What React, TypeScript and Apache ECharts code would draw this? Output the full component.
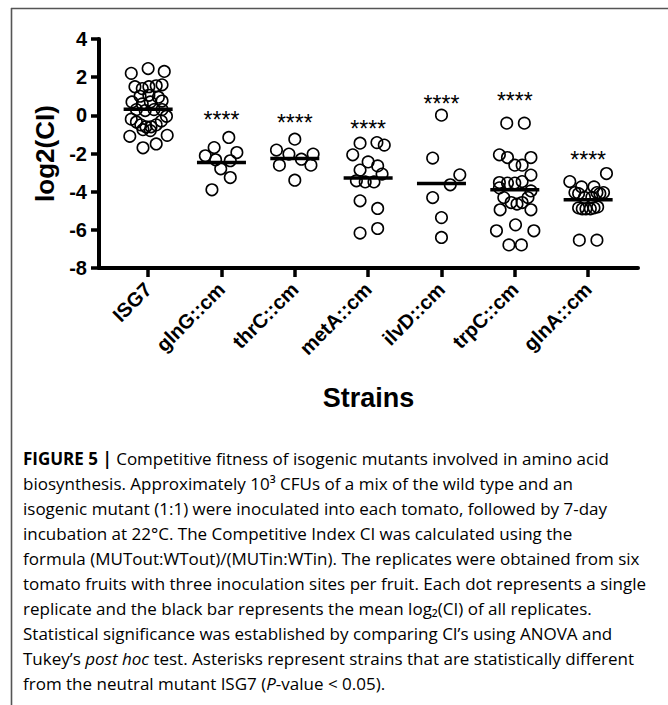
import React, { useEffect, useRef } from "react";
import * as echarts from "echarts";

// ---- data ----
const categories = ["ISG7", "glnG::cm", "thrC::cm", "metA::cm", "ilvD::cm", "trpC::cm", "glnA::cm"];

// horizontal jitter (in category units) and log2(CI) values per strain
const isg7Offsets = [-0.23, 0.0, 0.22, -0.18, -0.08, 0.01, 0.11, 0.19, -0.11, 0.01, 0.14, -0.22, -0.08, 0.03, 0.19, -0.16, -0.04, 0.08, 0.19, -0.23, -0.16, -0.1, -0.03, 0.04, 0.11, 0.18, 0.25, -0.07, 0.03, -0.25, 0.26, -0.07, 0.11];
const isg7Values = [2.2, 2.45, 2.3, 1.5, 1.4, 1.5, 1.55, 1.6, 1.0, 1.05, 0.95, 0.7, 0.6, 0.7, 0.75, 0.3, 0.25, 0.3, 0.3, -0.2, -0.35, -0.5, -0.6, -0.6, -0.5, -0.3, -0.05, -0.75, -0.8, -1.1, -1.05, -1.7, -1.5];

const glnGOffsets = [0.1, -0.1, 0.21, -0.22, -0.08, 0.12, -0.01, 0.12, -0.13];
const glnGValues = [-1.16, -1.69, -1.95, -2.12, -2.33, -2.38, -2.8, -3.26, -3.9];

const thrCOffsets = [0.0, -0.25, -0.08, 0.09, 0.25, -0.21, 0.22, 0.0];
const thrCValues = [-1.25, -1.82, -2.03, -2.3, -2.03, -2.61, -2.61, -3.4];

const metAOffsets = [-0.11, 0.12, 0.22, -0.21, 0.0, 0.13, -0.11, 0.19, -0.16, -0.04, 0.08, -0.11, 0.13, -0.11, 0.13];
const metAValues = [-1.46, -1.43, -1.56, -2.07, -2.44, -2.65, -2.87, -3.08, -3.43, -3.49, -3.49, -4.48, -4.88, -6.17, -5.93];

const ilvDOffsets = [0.0, -0.12, 0.25, 0.12, -0.12, 0.0, 0.0];
const ilvDValues = [0.01, -2.24, -3.12, -3.64, -4.31, -5.36, -6.4];

const trpCOffsets = [-0.11, 0.13, -0.21, -0.1, 0.0, 0.1, 0.22, 0.22, -0.21, -0.1, 0.0, 0.1, 0.22, -0.15, -0.05, 0.03, 0.1, 0.18, -0.2, 0.22, 0.01, -0.25, 0.26, -0.08, 0.09, -0.21];
const trpCValues = [-0.41, -0.41, -2.07, -2.21, -2.61, -2.61, -2.21, -3.13, -3.52, -3.55, -3.55, -3.47, -3.96, -4.31, -4.57, -4.65, -4.57, -4.31, -4.95, -4.95, -5.74, -6.05, -6.05, -6.79, -6.79, -3.8];

const glnAOffsets = [0.25, -0.25, -0.09, 0.08, -0.18, -0.13, 0.12, 0.16, 0.21, -0.05, 0.05, -0.13, -0.08, -0.03, 0.03, 0.08, 0.13, -0.12, 0.12];
const glnAValues = [-3.05, -3.47, -3.75, -3.75, -4.05, -4.1, -4.05, -4.1, -4.05, -4.3, -4.3, -4.85, -4.9, -4.9, -4.9, -4.85, -4.8, -6.54, -6.54];

const meanValues = [0.32, -2.47, -2.26, -3.29, -3.57, -3.9, -4.43];

const starIndices = [1, 2, 3, 4, 5, 6];
const starValues = [-0.03, -0.18, -0.5, 0.81, 0.97, -2.12];
const starText = "****";

const yMin = -8;
const yMax = 4;
const yStep = 2;

const captionLines = [
  "{b|FIGURE 5 |} Competitive fitness of isogenic mutants involved in amino acid",
  "biosynthesis. Approximately 10³ CFUs of a mix of the wild type and an",
  "isogenic mutant (1:1) were inoculated into each tomato, followed by 7-day",
  "incubation at 22°C. The Competitive Index CI was calculated using the",
  "formula (MUTout:WTout)/(MUTin:WTin). The replicates were obtained from six",
  "tomato fruits with three inoculation sites per fruit. Each dot represents a single",
  "replicate and the black bar represents the mean log₂(CI) of all replicates.",
  "Statistical significance was established by comparing CI’s using ANOVA and",
  "Tukey’s {i|post hoc} test. Asterisks represent strains that are statistically different",
  "from the neutral mutant ISG7 ({i|P}-value < 0.05).",
];

const groupOffsets = [isg7Offsets, glnGOffsets, thrCOffsets, metAOffsets, ilvDOffsets, trpCOffsets, glnAOffsets];
const groupValues = [isg7Values, glnGValues, thrCValues, metAValues, ilvDValues, trpCValues, glnAValues];

const AX_FONT = "'Liberation Sans', Arial, Helvetica, sans-serif";
const CAP_FONT = "'Open Sans', 'Liberation Sans', Arial, sans-serif";

export default function App() {
  const ref = useRef<HTMLDivElement>(null);

  useEffect(() => {
    if (!ref.current) return;
    const chart = echarts.init(ref.current, null, { renderer: "svg" });

    const pointSeries = groupValues.map((vals, i) => ({
      type: "scatter",
      name: categories[i],
      data: vals.map((v, k) => [i + groupOffsets[i][k], v]),
      symbol: "circle",
      symbolSize: 11.5,
      itemStyle: { color: "rgba(0,0,0,0)", borderColor: "#000", borderWidth: 1.6, opacity: 1 },
      silent: true,
      z: 3,
    }));

    const capBase = {
      fontFamily: CAP_FONT,
      fontSize: 17,
      color: "#3a3a3a",
      lineHeight: 22,
    };

    const captionGraphics = captionLines.map((line, i) => ({
      type: "text",
      left: 23,
      top: 458 + 25 * i - 11,
      silent: true,
      style: {
        text: line,
        ...capBase,
        rich: {
          b: { ...capBase, fontWeight: "bold", color: "#222" },
          i: { ...capBase, fontStyle: "italic" },
        },
      },
    }));

    const option: any = {
      animation: false,
      backgroundColor: "#fff",
      grid: { left: 99, right: 30, top: 39, bottom: 437, containLabel: false },
      xAxis: {
        type: "value",
        min: -0.67,
        max: 6.68,
        name: "Strains",
        nameLocation: "middle",
        nameGap: 116,
        nameTextStyle: { fontFamily: AX_FONT, fontSize: 27, fontWeight: "bold", color: "#000" },
        splitLine: { show: false },
        axisLine: { show: true, onZero: false, lineStyle: { color: "#000", width: 4 } },
        axisTick: {
          show: true,
          length: 9,
          customValues: categories.map((_, i) => i),
          lineStyle: { color: "#000", width: 3.5 },
        },
        axisLabel: {
          show: true,
          customValues: categories.map((_, i) => i),
          formatter: (v: number) => categories[Math.round(v)] ?? "",
          rotate: 45,
          margin: 18,
          fontFamily: AX_FONT,
          fontSize: 20,
          fontWeight: "bold",
          color: "#000",
        },
      },
      yAxis: {
        type: "value",
        min: yMin,
        max: yMax,
        interval: yStep,
        name: "log2(CI)",
        nameLocation: "middle",
        nameGap: 36,
        nameTextStyle: { fontFamily: AX_FONT, fontSize: 26, fontWeight: "bold", color: "#000" },
        splitLine: { show: false },
        axisLine: { show: true, onZero: false, lineStyle: { color: "#000", width: 4 } },
        axisTick: { show: true, length: 8, lineStyle: { color: "#000", width: 3.5 } },
        axisLabel: {
          margin: 12,
          fontFamily: AX_FONT,
          fontSize: 20,
          fontWeight: "bold",
          color: "#000",
        },
      },
      series: [
        ...pointSeries,
        {
          type: "scatter",
          name: "mean",
          data: meanValues.map((m, i) => [i, m]),
          symbol: "rect",
          symbolSize: [49, 3.5],
          itemStyle: { color: "#000", opacity: 1 },
          silent: true,
          z: 4,
        },
        {
          type: "scatter",
          name: "significance",
          data: starValues.map((v, k) => [starIndices[k], v]),
          symbol: "circle",
          symbolSize: 1,
          itemStyle: { color: "rgba(0,0,0,0)", opacity: 1 },
          silent: true,
          label: {
            show: true,
            position: "inside",
            formatter: () => starText,
            fontFamily: AX_FONT,
            fontSize: 23,
            color: "#000",
            offset: [0, 4],
          },
          z: 5,
        },
      ],
      graphic: [
        {
          type: "line",
          silent: true,
          shape: { x1: 11, y1: 8.5, x2: 668, y2: 8.5 },
          style: { stroke: "#555", lineWidth: 1.6 },
        },
        {
          type: "line",
          silent: true,
          shape: { x1: 11.5, y1: 8, x2: 11.5, y2: 705 },
          style: { stroke: "#555", lineWidth: 1.6 },
        },
        ...captionGraphics,
      ],
    };

    chart.setOption(option);
    return () => chart.dispose();
  }, []);

  return (
    <div
      ref={ref}
      style={{ position: "absolute", left: 0, top: 0, width: 668, height: 705, background: "#fff" }}
    />
  );
}
